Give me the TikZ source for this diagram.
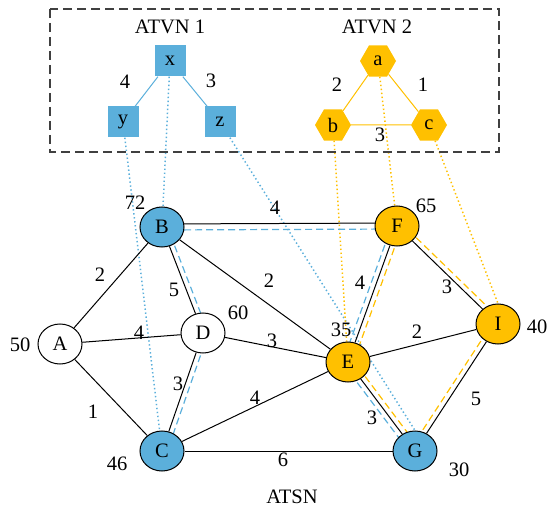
\documentclass[tikz,border=0pt]{standalone}
\usepackage{fontspec}
\setmainfont{Liberation Serif}
\usetikzlibrary{shapes.geometric,calc,backgrounds}
\definecolor{vblue}{RGB}{91,175,219}
\definecolor{vyel}{RGB}{255,192,0}
\definecolor{boxgray}{RGB}{64,64,64}
\newcommand\offline[4]{\draw[#1] ($(#2)!#4!90:(#3)$) -- ($(#3)!#4!-90:(#2)$);}
\begin{document}
\begin{tikzpicture}[x=1pt,y=-1pt, font=\fontsize{20.5}{24}\selectfont,
 snode/.style={ellipse,draw=black,line width=1pt,minimum width=44pt,minimum height=40pt,inner sep=0pt},
 wnode/.style={snode,fill=white},
 bnode/.style={snode,fill=vblue},
 ynode/.style={snode,fill=vyel},
 vsq/.style={rectangle,fill=vblue,minimum size=31pt,inner sep=0pt},
 vhex/.style={regular polygon,regular polygon sides=6,fill=vyel,minimum size=36pt,inner sep=0pt},
 pedge/.style={draw=black,line width=1pt},
 vbedge/.style={draw=vblue,line width=1pt},
 vyedge/.style={draw=vyel,line width=1pt},
 bmap/.style={draw=vblue,line width=1.5pt,dash pattern=on 1.4pt off 2.6pt},
 ymap/.style={draw=vyel,line width=1.5pt,dash pattern=on 1.4pt off 2.6pt},
 bpath/.style={draw=vblue,line width=1.2pt,dash pattern=on 7pt off 4pt},
 ypath/.style={draw=vyel,line width=1.2pt,dash pattern=on 7pt off 4pt},
 lbl/.style={inner sep=0pt}
]
\useasboundingbox (0,0) rectangle (549,513);
% dashed frame
\draw[boxgray,line width=1.3pt,dash pattern=on 9pt off 5pt] (50,9) rectangle (499,152);
\node[lbl] (t1) at (170,27) {ATVN 1};
\node[lbl] (t2) at (377,27) {ATVN 2};
\node[lbl] (t3) at (292,497) {ATSN};
% virtual nodes
\node[vsq] (x) at (170,61) {x};
\node[vsq] (y) at (123,122) {y};
\node[vsq] (z) at (220,122) {z};
\node[vhex] (a) at (378,61) {a};
\node[vhex] (b) at (333,125) {b};
\node[vhex] (c) at (429,125) {c};
% substrate nodes
\node[wnode] (A) at (60,344) {A};
\node[bnode] (B) at (162,227) {B};
\node[wnode] (D) at (203,333) {D};
\node[ynode] (F) at (397,226) {F};
\node[ynode] (I) at (498,324) {I};
\node[ynode] (E) at (348,362) {E};
\node[bnode] (C) at (162,451) {C};
\node[bnode] (G) at (415,451) {G};
\begin{scope}[on background layer]
 % mapping lines
 \draw[bmap] (x) -- (B);
 \draw[bmap] (y) -- (C);
 \draw[bmap] (z) -- (G.north);
 \draw[ymap] (a) -- (F);
 \draw[ymap] (b) -- (E);
 \draw[ymap] (c) -- (I.north);
 % embedding paths
 \offline{pedge}{B}{F}{3pt}
 \offline{bpath}{B}{F}{-3pt}
 \offline{bpath}{B}{D}{5pt}
 \offline{bpath}{D}{C}{5pt}
 \offline{bpath}{F}{E}{-5pt}
 \offline{ypath}{F}{E}{5pt}
 \offline{bpath}{E}{G}{-5pt}
 \offline{ypath}{E}{G}{5pt}
 \offline{ypath}{F}{I}{5pt}
 \offline{ypath}{G}{I}{5pt}
\end{scope}
% substrate edges
\draw[pedge] (A) -- (B);
\draw[pedge] (A) -- (D);
\draw[pedge] (A) -- (C);
\draw[pedge] (B) -- (D);
\draw[pedge] (B) -- (E);
\draw[pedge] (D) -- (E);
\draw[pedge] (D) -- (C);
\draw[pedge] (C) -- (E);
\draw[pedge] (C) -- (G);
\draw[pedge] (E) -- (F);
\draw[pedge] (E) -- (I);
\draw[pedge] (E) -- (G);
\draw[pedge] (F) -- (I);
\draw[pedge] (G) -- (I);
% virtual edges
\draw[vbedge] (x) -- (y);
\draw[vbedge] (x) -- (z);
\draw[vyedge] (a) -- (b);
\draw[vyedge] (a) -- (c);
\draw[vyedge] (b) -- (c);
% virtual edge labels
\node[lbl] (lxy) at (125,82) {4};
\node[lbl] (lxz) at (211,81) {3};
\node[lbl] (lab) at (337,85) {2};
\node[lbl] (lac) at (423,85) {1};
\node[lbl] (lbc) at (380,135) {3};
% node weights
\node[lbl] (wA) at (20,345) {50};
\node[lbl] (wB) at (135,203) {72};
\node[lbl] (wD) at (238,313) {60};
\node[lbl] (wF) at (426,206) {65};
\node[lbl] (wI) at (537,327) {40};
\node[lbl] (wE) at (341,330) {35};
\node[lbl] (wC) at (117,464) {46};
\node[lbl] (wG) at (459,470) {30};
% substrate edge labels
\node[lbl] (eAB) at (100,275) {2};
\node[lbl] (eBD) at (174,290) {5};
\node[lbl] (eAD) at (139,333) {4};
\node[lbl] (eBE) at (269,281) {2};
\node[lbl] (eDE) at (272,341) {3};
\node[lbl] (eBF) at (275,208) {4};
\node[lbl] (eEF) at (360,283) {4};
\node[lbl] (eFI) at (447,287) {3};
\node[lbl] (eEI) at (417,332) {2};
\node[lbl] (eAC) at (93,412) {1};
\node[lbl] (eCD) at (178,384) {3};
\node[lbl] (eCE) at (255,398) {4};
\node[lbl] (eCG) at (283,460) {6};
\node[lbl] (eEG) at (372,418) {3};
\node[lbl] (eGI) at (476,399) {5};
\end{tikzpicture}
\end{document}
